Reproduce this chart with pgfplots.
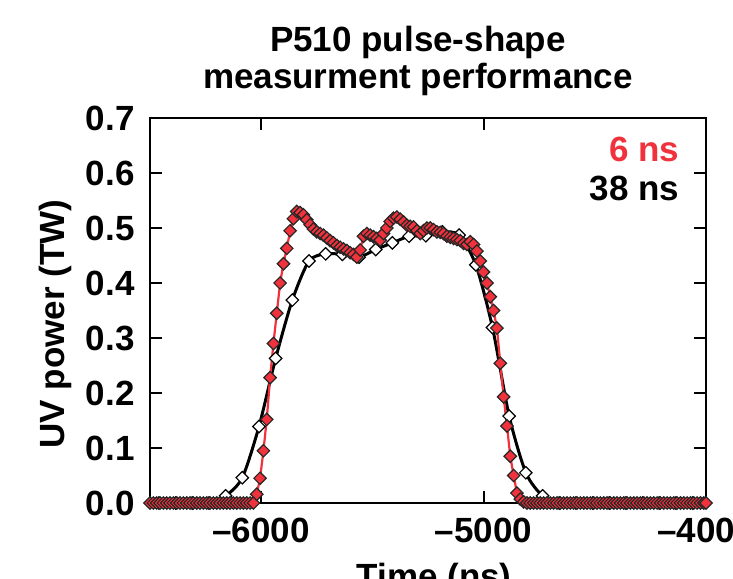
\documentclass[border=0pt]{standalone}
\usepackage{fontspec}
\setmainfont{Liberation Sans}
\usepackage{pgfplots}
\pgfplotsset{compat=1.18}
\definecolor{pred}{RGB}{240,50,60}
\newcommand{\bigf}{\fontsize{17.5}{17.5}\selectfont\bfseries}
\newcommand{\titf}{\fontsize{17.5}{18.5}\selectfont\bfseries}
\begin{document}
\begin{tikzpicture}
\begin{axis}[name=ax, scale only axis, width=278pt, height=192.5pt,
 xmin=-6500, xmax=-4000, ymin=0, ymax=0.7,
 xtick={-6000,-5000,-4000}, xticklabels={--6000,--5000,--4000},
 ytick={0,0.1,0.2,0.3,0.4,0.5,0.6,0.7},
 yticklabels={0.0,0.1,0.2,0.3,0.4,0.5,0.6,0.7},
 minor tick num=0,
 tick align=inside, major tick length=6pt,
 tick style={line width=1pt, black},
 axis line style={line width=1pt},
 tick label style={font=\bigf},
 label style={font=\bigf},
 xticklabel style={anchor=north, inner sep=0pt, yshift=-7.5pt},
 yticklabel style={anchor=east, inner sep=0pt, xshift=-7.5pt},
 xlabel={Time (ns)}, ylabel={UV power (TW)},
 xlabel style={at={(axis description cs:0.511,-0.2208)}, anchor=base},
 ylabel style={at={(axis description cs:-0.1529,0.465)}, anchor=base},
 title={P510 pulse-shape\\measurment performance},
 title style={font=\titf, align=center, at={(axis description cs:0.482,1)}, anchor=south, inner sep=0pt, yshift=5pt},
 clip=false,
]
\addplot[black, line width=1.5pt, smooth, tension=0.45, mark=square*, mark size=2.2pt,
  mark options={rotate=45, fill=white, draw=black, line width=0.6pt, solid}] coordinates {
(-6460,0) (-6385,0) (-6310,0) (-6235,0) (-6160,0.013) (-6085,0.046) (-6010,0.139)
(-5935,0.263) (-5860,0.369) (-5785,0.44) (-5710,0.453) (-5635,0.452) (-5560,0.447)
(-5485,0.461) (-5410,0.473) (-5335,0.485) (-5260,0.486) (-5185,0.493) (-5110,0.487)
(-5035,0.433) (-4960,0.319) (-4885,0.158) (-4810,0.055) (-4735,0.013) (-4660,0)
(-4585,0) (-4510,0) (-4435,0) (-4360,0) (-4285,0) (-4210,0) (-4135,0) (-4060,0)
};
\addplot[pred, line width=1.1pt, mark=square*, mark size=2.2pt,
  mark options={rotate=45, fill=pred, draw=black!85, line width=0.6pt, solid}] coordinates {
(-6500,0) (-6485,0) (-6470,0) (-6455,0) (-6440,0) (-6425,0) (-6410,0) (-6395,0)
(-6380,0) (-6365,0) (-6350,0) (-6335,0) (-6320,0) (-6305,0) (-6290,0) (-6275,0)
(-6260,0) (-6245,0) (-6230,0) (-6215,0) (-6200,0) (-6185,0) (-6170,0) (-6155,0)
(-6140,0) (-6125,0) (-6110,0) (-6095,0) (-6080,0) (-6065,0) (-6050,0) (-6035,0)
(-6020,0.016) (-6005,0.045) (-5990,0.095) (-5975,0.152) (-5960,0.228) (-5945,0.29)
(-5930,0.345) (-5915,0.40) (-5900,0.435) (-5885,0.463) (-5870,0.495) (-5855,0.517)
(-5840,0.53) (-5825,0.528) (-5810,0.524) (-5795,0.515) (-5780,0.506) (-5765,0.498)
(-5750,0.493) (-5735,0.49) (-5720,0.487) (-5705,0.482) (-5690,0.477) (-5675,0.473)
(-5660,0.468) (-5645,0.465) (-5630,0.462) (-5615,0.459) (-5600,0.455) (-5585,0.452)
(-5570,0.447) (-5555,0.46) (-5540,0.485) (-5525,0.49) (-5510,0.487) (-5495,0.484)
(-5480,0.481) (-5465,0.478) (-5450,0.49) (-5435,0.5) (-5420,0.512) (-5405,0.518)
(-5390,0.52) (-5375,0.516) (-5360,0.511) (-5345,0.505) (-5330,0.503) (-5315,0.502)
(-5300,0.495) (-5285,0.49) (-5270,0.495) (-5255,0.5) (-5240,0.5) (-5225,0.497)
(-5210,0.493) (-5195,0.492) (-5180,0.49) (-5165,0.485) (-5150,0.483) (-5135,0.481)
(-5120,0.479) (-5105,0.477) (-5090,0.472) (-5075,0.47) (-5060,0.475) (-5045,0.47)
(-5030,0.458) (-5015,0.44) (-5000,0.42) (-4985,0.40) (-4970,0.375) (-4955,0.35)
(-4940,0.318) (-4925,0.254) (-4910,0.193) (-4895,0.14) (-4880,0.085) (-4865,0.05)
(-4850,0.018) (-4835,0.007) (-4820,0.002) (-4805,0)
(-4790,0) (-4775,0) (-4760,0) (-4745,0) (-4730,0) (-4715,0) (-4700,0) (-4685,0)
(-4670,0) (-4655,0) (-4640,0) (-4625,0) (-4610,0) (-4595,0) (-4580,0) (-4565,0)
(-4550,0) (-4535,0) (-4520,0) (-4505,0) (-4490,0) (-4475,0) (-4460,0) (-4445,0)
(-4430,0) (-4415,0) (-4400,0) (-4385,0) (-4370,0) (-4355,0) (-4340,0) (-4325,0)
(-4310,0) (-4295,0) (-4280,0) (-4265,0) (-4250,0) (-4235,0) (-4220,0) (-4205,0)
(-4190,0) (-4175,0) (-4160,0) (-4145,0) (-4130,0) (-4115,0) (-4100,0) (-4085,0)
(-4070,0) (-4055,0) (-4040,0) (-4025,0) (-4010,0) (-4000,0)
};
\node[anchor=base east, text=pred, font=\bigf, inner sep=0pt] at (axis description cs:0.953,0.886) {6 ns};
\node[anchor=base east, font=\bigf, inner sep=0pt] at (axis description cs:0.953,0.787) {38 ns};
\end{axis}
\pgfresetboundingbox
\path[use as bounding box] ([xshift=-75pt,yshift=-37.5pt]ax.south west) rectangle ([xshift=13.5pt,yshift=59pt]ax.north east);
\end{tikzpicture}
\end{document}
